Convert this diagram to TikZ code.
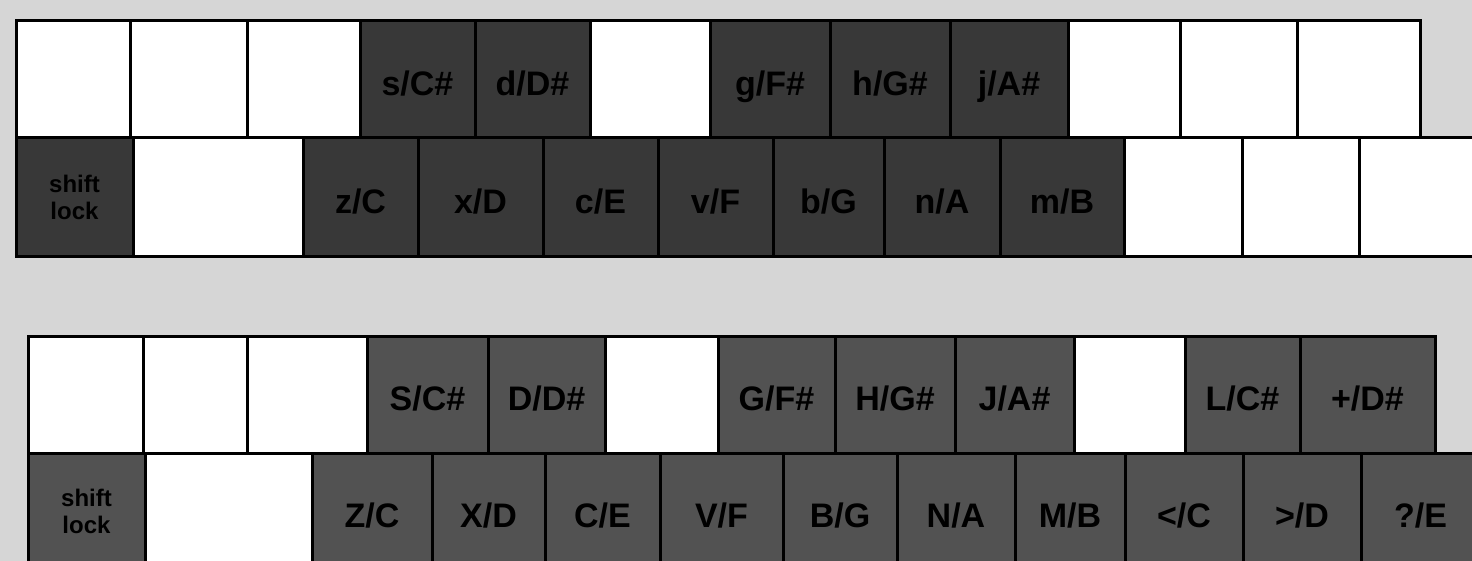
\documentclass[tikz,border=0pt]{standalone}
\usepackage{fontspec}
\setmainfont{Liberation Sans}
\definecolor{bg}{RGB}{214,214,214}
\definecolor{dkA}{RGB}{56,56,56}
\definecolor{dkB}{RGB}{82,82,82}
\tikzset{
  keybase/.style={draw=black, line width=3pt, inner sep=0pt, outer sep=0pt,
    text=black, align=center},
  wk/.style={keybase, fill=white},
  dka/.style={keybase, fill=dkA},
  dkb/.style={keybase, fill=dkB},
  lbl/.style={font=\bfseries\fontsize{34}{34}\selectfont, text height=24pt, text depth=0pt},
  shiftfont/.style={font=\bfseries\fontsize{24}{27}\selectfont}
}
\newcommand\kbkey[7]{%
  \pgfmathsetmacro\kw{#3-#2}\pgfmathsetmacro\kh{#5-#4}%
  \node[#6, minimum width=\kw pt, minimum height=\kh pt] (#1) at ({(#2+#3)/2},{-(#4+#5)/2}) {};%
  \node[lbl] (#1l) at ([yshift=-4pt]#1.center) {#7};}
\newcommand\shiftkey[6]{%
  \pgfmathsetmacro\kw{#3-#2}\pgfmathsetmacro\kh{#5-#4}%
  \node[#6, shiftfont, minimum width=\kw pt, minimum height=\kh pt] (#1) at ({(#2+#3)/2},{-(#4+#5)/2}) {shift\\lock};}
\begin{document}
\begin{tikzpicture}[x=1pt,y=1pt]
\useasboundingbox (0,0) rectangle (1472,-561);
\clip (0,0) rectangle (1472,-561);
\fill[bg] (0,0) rectangle (1472,-561);
% top keyboard, row 1
\kbkey{t1}{16}{130}{21}{138}{wk}{}
\kbkey{t2}{130}{247}{21}{138}{wk}{}
\kbkey{t3}{247}{360}{21}{138}{wk}{}
\kbkey{t4}{360}{475}{21}{138}{dka}{s/C\#}
\kbkey{t5}{475}{590}{21}{138}{dka}{d/D\#}
\kbkey{t6}{590}{710}{21}{138}{wk}{}
\kbkey{t7}{710}{830}{21}{138}{dka}{g/F\#}
\kbkey{t8}{830}{950}{21}{138}{dka}{h/G\#}
\kbkey{t9}{950}{1068}{21}{138}{dka}{j/A\#}
\kbkey{t10}{1068}{1180}{21}{138}{wk}{}
\kbkey{t11}{1180}{1297}{21}{138}{wk}{}
\kbkey{t12}{1297}{1420}{21}{138}{wk}{}
% top keyboard, row 2
\shiftkey{u1}{16}{133}{138}{257}{dka}
\kbkey{u2}{133}{303}{138}{257}{wk}{}
\kbkey{u3}{303}{418}{138}{257}{dka}{z/C}
\kbkey{u4}{418}{543}{138}{257}{dka}{x/D}
\kbkey{u5}{543}{658}{138}{257}{dka}{c/E}
\kbkey{u6}{658}{773}{138}{257}{dka}{v/F}
\kbkey{u7}{773}{884}{138}{257}{dka}{b/G}
\kbkey{u8}{884}{1000}{138}{257}{dka}{n/A}
\kbkey{u9}{1000}{1124}{138}{257}{dka}{m/B}
\kbkey{u10}{1124}{1242}{138}{257}{wk}{}
\kbkey{u11}{1242}{1359}{138}{257}{wk}{}
\kbkey{u12}{1359}{1480}{138}{257}{wk}{}
% bottom keyboard, row 1
\kbkey{b1}{28}{143}{336}{453}{wk}{}
\kbkey{b2}{143}{247}{336}{453}{wk}{}
\kbkey{b3}{247}{367}{336}{453}{wk}{}
\kbkey{b4}{367}{488}{336}{453}{dkb}{S/C\#}
\kbkey{b5}{488}{605}{336}{453}{dkb}{D/D\#}
\kbkey{b6}{605}{718}{336}{453}{wk}{}
\kbkey{b7}{718}{835}{336}{453}{dkb}{G/F\#}
\kbkey{b8}{835}{955}{336}{453}{dkb}{H/G\#}
\kbkey{b9}{955}{1074}{336}{453}{dkb}{J/A\#}
\kbkey{b10}{1074}{1185}{336}{453}{wk}{}
\kbkey{b11}{1185}{1300}{336}{453}{dkb}{L/C\#}
\kbkey{b12}{1300}{1435}{336}{453}{dkb}{+/D\#}
% bottom keyboard, row 2
\shiftkey{c1}{28}{145}{453}{570}{dkb}
\kbkey{c2}{145}{312}{453}{570}{wk}{}
\kbkey{c3}{312}{432}{453}{570}{dkb}{Z/C}
\kbkey{c4}{432}{545}{453}{570}{dkb}{X/D}
\kbkey{c5}{545}{660}{453}{570}{dkb}{C/E}
\kbkey{c6}{660}{783}{453}{570}{dkb}{V/F}
\kbkey{c7}{783}{897}{453}{570}{dkb}{B/G}
\kbkey{c8}{897}{1015}{453}{570}{dkb}{N/A}
\kbkey{c9}{1015}{1125}{453}{570}{dkb}{M/B}
\kbkey{c10}{1125}{1243}{453}{570}{dkb}{</C}
\kbkey{c11}{1243}{1361}{453}{570}{dkb}{>/D}
\kbkey{c12}{1361}{1480}{453}{570}{dkb}{?/E}
\end{tikzpicture}
\end{document}
